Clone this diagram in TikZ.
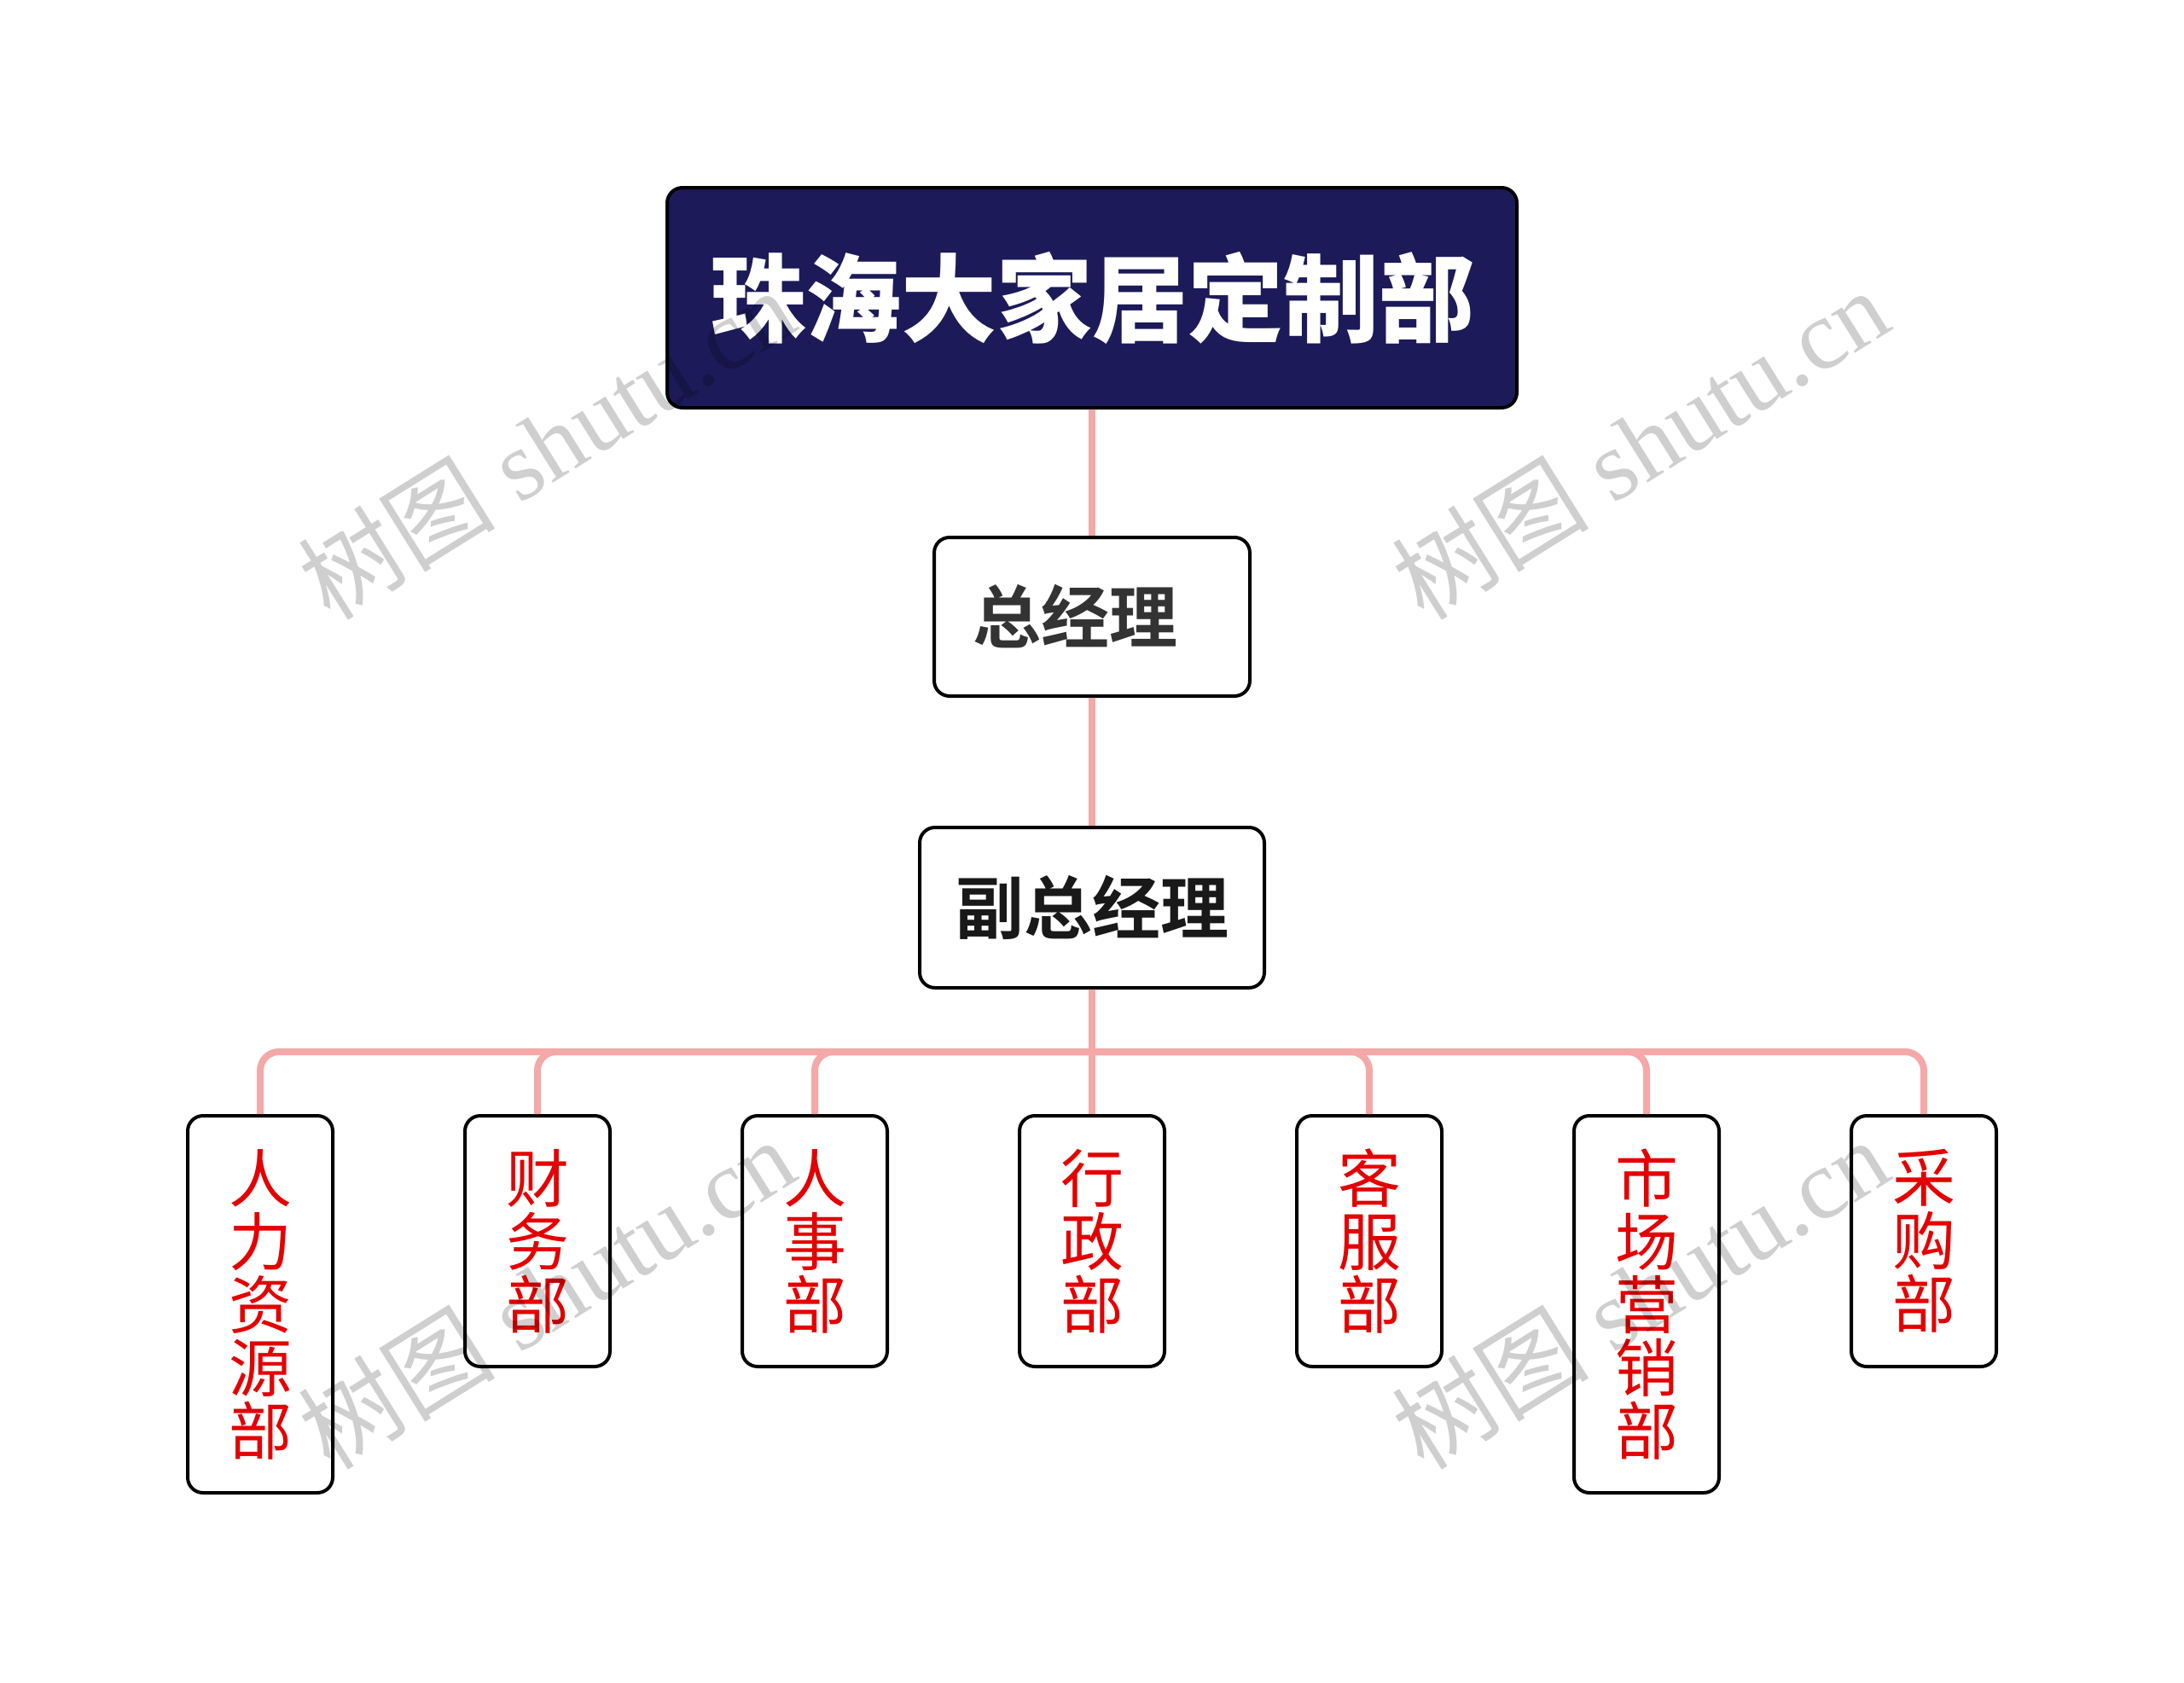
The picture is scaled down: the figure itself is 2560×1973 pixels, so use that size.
\documentclass[tikz,border=0pt]{standalone}
\usepackage{fontspec}
\newfontfamily\cjk[BoldFont={* Bold}]{Noto Sans CJK SC}
\newfontfamily\cjkblack{Noto Sans CJK SC Black}
\newfontfamily\wmlatin{Liberation Serif}
\definecolor{navy}{RGB}{28,26,88}
\definecolor{pinkline}{RGB}{244,168,168}
\definecolor{deptred}{RGB}{228,0,0}
\definecolor{darktxt}{RGB}{51,51,51}
\begin{document}
\begin{tikzpicture}[x=1pt,y=-1pt,
  box/.style={draw=black, line width=4pt, rounded corners=18pt, fill=white, inner sep=0pt, align=center},
  titlebox/.style={box, fill=navy, minimum width=996pt, minimum height=258pt, text=white,
    font=\cjkblack\fontsize{112}{120}\selectfont},
  midbox/.style={box, font=\cjk\bfseries\fontsize{80}{90}\selectfont},
  dept/.style={box, minimum width=170pt, text=deptred, font=\cjk\fontsize{74}{74}\selectfont},
  conn/.style={draw=pinkline, line width=8pt},
  wm/.style={text=black, text opacity=0.19, rotate=32, inner sep=0pt, font=\wmlatin\fontsize{116}{120}\selectfont}
]
\useasboundingbox (0,0) rectangle (2560,1973);

\node[titlebox] (root) at (1280,349) {珠海大家居定制部};
\node[midbox, text=darktxt, minimum width=370pt, minimum height=186pt] (gm) at (1280,723) {总经理\hspace{40pt}};
\node[midbox, text=black!90, minimum width=404pt, minimum height=188pt] (vgm) at (1280,1064) {副总经理};

\coordinate (bar) at (1280,1233);

\node[dept, minimum height=442pt] (d1) at (305,1529) {人\\力\\资\\源\\部};
\node[dept, minimum height=294pt] (d2) at (630,1455) {财\\务\\部};
\node[dept, minimum height=294pt] (d3) at (955,1455) {人\\事\\部};
\node[dept, minimum height=294pt] (d4) at (1280,1455) {行\\政\\部};
\node[dept, minimum height=294pt] (d5) at (1605,1455) {客\\服\\部};
\node[dept, minimum height=442pt] (d6) at (1930,1529) {市\\场\\营\\销\\部};
\node[dept, minimum height=294pt] (d7) at (2255,1455) {采\\购\\部};

\draw[conn] (root.south) -- (gm.north);
\draw[conn] (gm.south) -- (vgm.north);
\draw[conn] (vgm.south) -- (d4.north);
\draw[conn, rounded corners=22pt] (bar) -| (d1.north);
\draw[conn, rounded corners=22pt] (bar) -| (d2.north);
\draw[conn, rounded corners=22pt] (bar) -| (d3.north);
\draw[conn, rounded corners=22pt] (bar) -| (d5.north);
\draw[conn, rounded corners=22pt] (bar) -| (d6.north);
\draw[conn, rounded corners=22pt] (bar) -| (d7.north);

\node[wm] (w1) at (640,520) {{\cjk 树图} shutu.cn};
\node[wm] (w2) at (1922,520) {{\cjk 树图} shutu.cn};
\node[wm] (w3) at (640,1516) {{\cjk 树图} shutu.cn};
\node[wm] (w4) at (1922,1516) {{\cjk 树图} shutu.cn};
\end{tikzpicture}
\end{document}
